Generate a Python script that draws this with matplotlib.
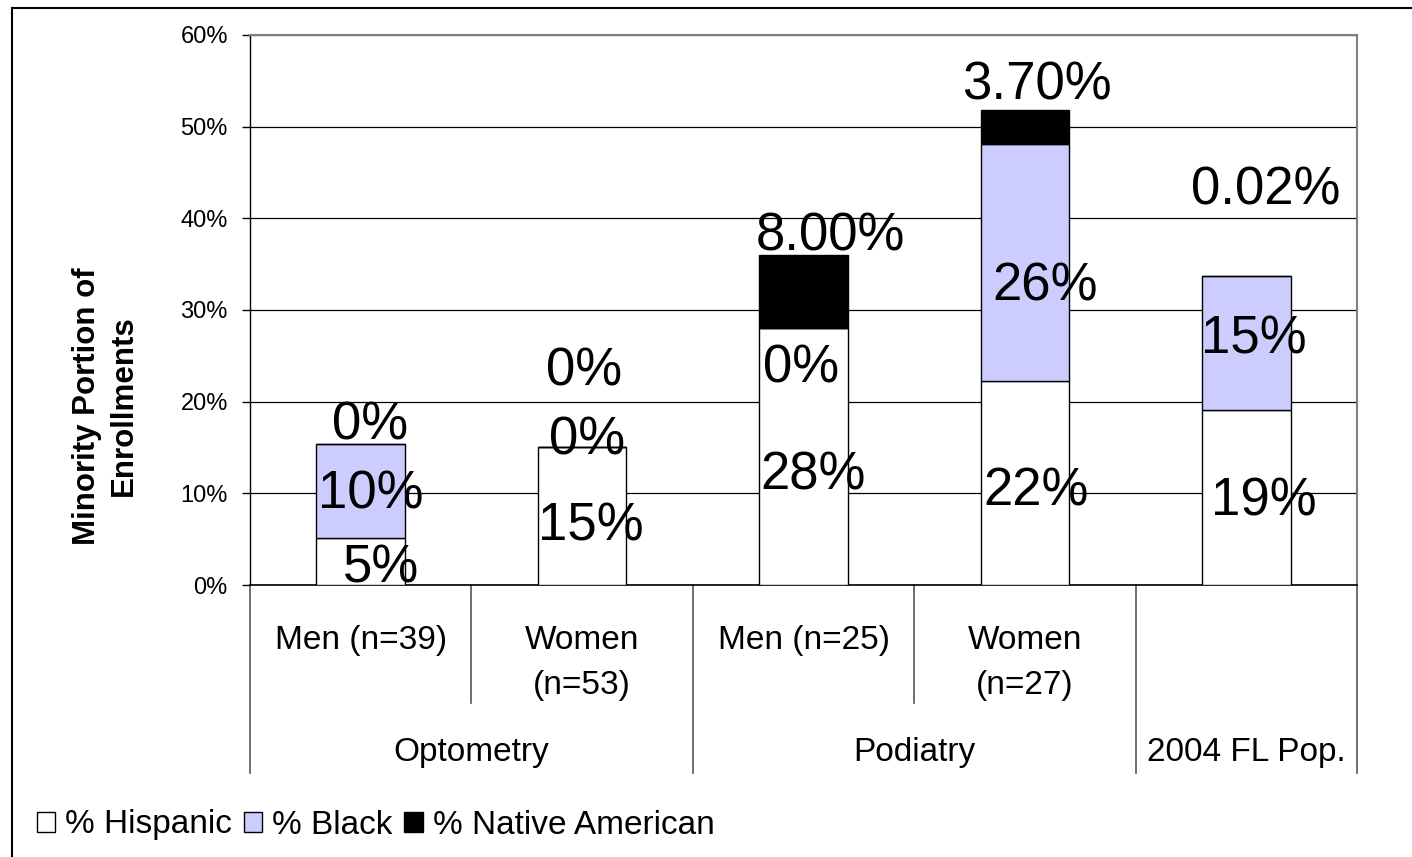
import matplotlib
matplotlib.use("Agg")
import matplotlib.pyplot as plt
from matplotlib.patches import Patch
from matplotlib.lines import Line2D
from matplotlib.ticker import FuncFormatter

plt.rcParams['font.family'] = ['Liberation Sans', 'DejaVu Sans']

# ---------------- data ----------------
categories = ["Men (n=39)", "Women\n(n=53)", "Men (n=25)", "Women\n(n=27)", ""]
groups = ["Optometry", "Podiatry", "2004 FL Pop."]
group_spans = [(0, 1), (2, 3), (4, 4)]
series_names = ["% Hispanic", "% Black", "% Native American"]
hispanic = [5.13, 15.09, 28.0, 22.22, 19.1]
black = [10.26, 0.0, 0.0, 25.93, 14.6]
native = [0.0, 0.0, 8.0, 3.70, 0.02]
hispanic_labels = ["5%", "15%", "28%", "22%", "19%"]
black_labels = ["10%", "0%", "0%", "26%", "15%"]
native_labels = ["0%", "0%", "8.00%", "3.70%", "0.02%"]
yticks = [0, 10, 20, 30, 40, 50, 60]

# ---------------- style ----------------
colors = ["#FFFFFF", "#CCCCFF", "#000000"]
# label offsets (pixels) from segment centre, manual placement as in original
hisp_off = [(20, -7), (9, -11), (10, -19), (11, -8), (18, -4)]
black_off = [(10, -4), (5, 6), (-2, -40), (20, -24), (8, 3)]
native_off = [(9, 18), (2, 75), (27, 55), (12, 41), (19, 85)]

W, H = 1412, 857
fig = plt.figure(figsize=(W / 100, H / 100), dpi=100)
ax = fig.add_axes([250 / W, (H - 585) / H, (1357 - 250) / W, (585 - 35) / H])

x = list(range(len(categories)))
bw = 0.4
bottoms2 = [h + b for h, b in zip(hispanic, black)]
series = [hispanic, black, native]
bottoms = [[0] * len(x), hispanic, bottoms2]
labels = [hispanic_labels, black_labels, native_labels]
offsets = [hisp_off, black_off, native_off]

for s, (vals, bot, col) in enumerate(zip(series, bottoms, colors)):
    ax.bar(x, vals, bw, bottom=bot, color=col, edgecolor="black", linewidth=1.0, zorder=3)
    for i in x:
        yc = bot[i] + vals[i] / 2
        ax.annotate(labels[s][i], (i, yc), xytext=offsets[s][i], textcoords="offset pixels",
                    ha="center", va="center", fontsize=38, color="black", zorder=5)

ax.set_xlim(-0.5, len(categories) - 0.5)
ax.set_ylim(0, 60)
ax.set_yticks(yticks)
ax.yaxis.set_major_formatter(FuncFormatter(lambda v, p: f"{v:.0f}%"))
ax.tick_params(axis="y", direction="out", length=6, width=1, labelsize=17, pad=10, colors="black")
ax.set_xticks([])
ax.grid(axis="y", color="black", linewidth=0.9, zorder=0)
ax.set_axisbelow(True)
for side in ["top", "right"]:
    ax.spines[side].set_color("#808080")
    ax.spines[side].set_linewidth(1.5)
ax.spines["left"].set_color("black")
ax.spines["bottom"].set_color("black")
ax.spines["left"].set_linewidth(1.0)
ax.spines["bottom"].set_linewidth(1.2)

fig.text(105 / W, (H - 406) / H, "Minority Portion of\nEnrollments", rotation=90,
         ha="center", va="center", fontsize=22.5, fontweight="bold", linespacing=1.3)

# ---------------- two-level category axis ----------------
tr = ax.get_xaxis_transform()
ax_h = 585 - 35
short_y = -(703 - 585) / ax_h
long_y = -(773 - 585) / ax_h
n = len(categories)
group_edges = set()
for a, b in group_spans:
    group_edges.add(a - 0.5)
    group_edges.add(b + 0.5)
for k in range(n + 1):
    xb = k - 0.5
    yb = long_y if xb in group_edges else short_y
    ax.plot([xb, xb], [0, yb], transform=tr, color="#555555", lw=1.2, clip_on=False)

for i, lab in enumerate(categories):
    ax.text(i, -(625 - 585) / ax_h, lab, transform=tr, ha="center", va="top",
            fontsize=24, linespacing=1.6)
for g, (a, b) in zip(groups, group_spans):
    ax.text((a + b) / 2, -(753 - 585) / ax_h, g, transform=tr, ha="center", va="center",
            fontsize=24)

# ---------------- legend ----------------
handles = [Patch(facecolor=c, edgecolor="black", linewidth=1.0) for c in colors]
fig.legend(handles, series_names, loc="center left", bbox_to_anchor=(37 / W, (H - 825) / H),
           ncol=3, frameon=False, fontsize=24, handlelength=0.55, handleheight=0.55,
           handletextpad=0.3, columnspacing=0.35, borderaxespad=0, borderpad=0)

# ---------------- figure border (left & top) ----------------
fig.add_artist(Line2D([12 / W, 12 / W], [0, (H - 8) / H], color="black", lw=1.5))
fig.add_artist(Line2D([12 / W, 1], [(H - 8) / H, (H - 8) / H], color="black", lw=1.5))

fig.savefig("out.png", dpi=100)
